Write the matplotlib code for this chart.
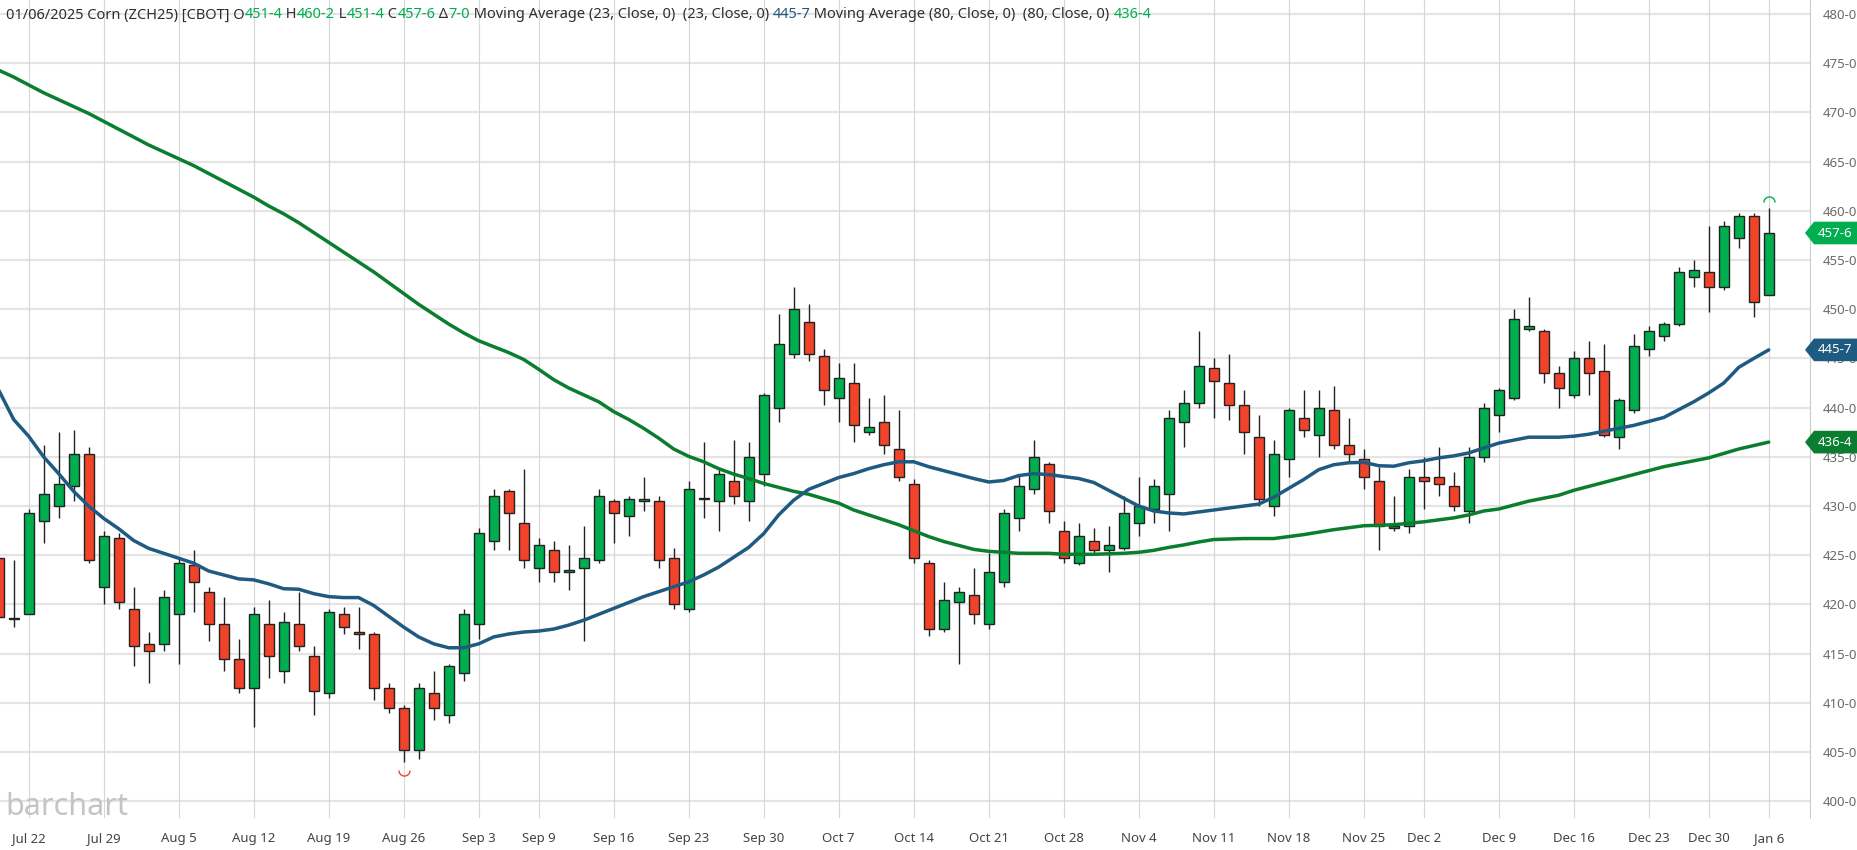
import matplotlib
matplotlib.use("Agg")
import matplotlib.pyplot as plt
from matplotlib.path import Path
from matplotlib.patches import Polygon
from matplotlib.transforms import blended_transform_factory
import pandas as pd

plt.rcParams['font.family'] = ['Noto Sans', 'DejaVu Sans']

# trading days shown (CBOT closed on the holidays)
holidays = ['2024-09-02', '2024-11-28', '2024-12-25', '2025-01-01']
days = [d for d in pd.bdate_range('2024-07-18', '2025-01-06') if d.strftime('%Y-%m-%d') not in holidays]

tick_dates = ['2024-07-22', '2024-07-29', '2024-08-05', '2024-08-12', '2024-08-19', '2024-08-26',
              '2024-09-03', '2024-09-09', '2024-09-16', '2024-09-23', '2024-09-30', '2024-10-07',
              '2024-10-14', '2024-10-21', '2024-10-28', '2024-11-04', '2024-11-11', '2024-11-18',
              '2024-11-25', '2024-12-02', '2024-12-09', '2024-12-16', '2024-12-23', '2024-12-30',
              '2025-01-06']

opens = [424.75, 418.5, 419, 428.5, 430, 432, 435.25, 421.75, 426.75, 419.5,
         416, 416, 419, 424, 421.25, 418, 414.5, 411.5, 418, 413.25,
         418, 414.75, 411, 419, 417.25, 417, 411.5, 409.5, 405.25, 411,
         408.75, 413, 418, 426.5, 431.5, 428.25, 423.75, 425.5, 423.25, 423.75,
         424.5, 430.5, 429, 430.5, 430.5, 424.75, 419.5, 430.75, 430.5, 432.5,
         430.5, 433.25, 440, 445.5, 448.75, 445.25, 441, 442.5, 437.5, 438.5,
         435.75, 432.25, 424.25, 417.5, 420.25, 421, 418, 422.25, 428.75, 431.75,
         434.25, 427.5, 424.25, 426.5, 425.5, 425.75, 428.25, 429.75, 431.25, 438.5,
         440.5, 444, 442.5, 440.25, 437, 430, 434.75, 439, 437.25, 439.75,
         436.25, 434.75, 432.5, 427.75, 428, 433, 433, 432, 429.5, 435,
         439.25, 441, 448, 447.75, 443.5, 441.25, 445, 443.75, 437, 439.75,
         446, 447.25, 448.5, 453.25, 453.75, 452.25, 457.25, 459.5, 451.5]
highs = [425.5, 424.5, 429.75, 436.25, 437.5, 437.75, 436, 427.5, 427.25, 421.75,
         417.25, 421.5, 424.75, 425.5, 421.75, 420.75, 416.5, 419.75, 420.5, 419.25,
         421.25, 415.75, 419.5, 419.75, 419.75, 417.25, 412, 409.75, 412, 413.25,
         414, 419.5, 427.75, 431.75, 431.75, 433.75, 426.75, 426.5, 426, 428,
         431.75, 430.75, 431, 433, 431, 425.75, 432.5, 436.5, 433.75, 436.75,
         436.5, 441.5, 449.5, 452.25, 450.5, 446, 444.5, 444.5, 441, 441.25,
         439.75, 432.75, 424.5, 422.25, 421.75, 423.75, 425.25, 429.75, 433.25, 436.75,
         434.5, 428.5, 428.25, 427.75, 428, 431, 433, 432.75, 439.75, 441.75,
         447.75, 445, 445.5, 441.75, 439.25, 436.75, 440, 441.75, 441.75, 442.25,
         439, 435.75, 434, 431, 433.75, 435, 436, 433.5, 436, 440.5,
         442, 450, 451.25, 448, 444.25, 445.75, 446.75, 446.5, 441, 447.5,
         448.25, 448.75, 454.25, 455, 458.5, 459, 459.75, 459.75, 460.25]
lows = [418.25, 417.75, 419, 426.25, 428.75, 430.5, 424.25, 420, 419.5, 413.75,
        412, 415.25, 414, 419.25, 416.25, 413.25, 411, 407.5, 412.5, 412,
        415.25, 408.75, 410.5, 417, 415.5, 410.25, 409, 404, 404.25, 408.25,
        408, 412.25, 416.5, 425.5, 425.5, 423.75, 422.25, 422.25, 421.5, 416.25,
        424.25, 426.25, 427, 429.5, 423.75, 419.5, 419.25, 428.75, 427.5, 430.25,
        428.5, 432, 438.5, 445, 444.75, 440.25, 438.5, 436.5, 437.25, 435.25,
        432.5, 424.25, 416.75, 417.25, 414, 418, 417.5, 421.75, 427.5, 431.25,
        428.25, 424.25, 424, 425, 423.25, 425.5, 427, 428.25, 427.5, 436,
        440, 439, 438.75, 435.25, 430, 429, 433, 437, 435, 435.75,
        434.5, 431.75, 425.5, 427.5, 427.25, 429.75, 431, 429.5, 428.25, 434.5,
        437.5, 440.75, 447.75, 442.5, 440, 441, 441.25, 437, 435.75, 439.5,
        445.25, 446.75, 448.25, 452.25, 449.75, 452, 456.25, 449.25, 451.5]
closes = [418.75, 418.5, 429.25, 431.25, 432.25, 435.25, 424.5, 427, 420.25, 415.75,
          415.25, 420.75, 424.25, 422.25, 418, 414.5, 411.5, 419, 414.75, 418.25,
          415.75, 411.25, 419.25, 417.75, 417, 411.5, 409.5, 405.25, 411.5, 409.5,
          413.75, 419, 427.25, 431, 429.25, 424.5, 426, 423.25, 423.5, 424.75,
          431, 429.25, 430.75, 430.75, 424.5, 420, 431.75, 430.75, 433.25, 431,
          435, 441.25, 446.5, 450, 445.5, 441.75, 443, 438.25, 438, 436.25,
          433, 424.75, 417.5, 420.5, 421.25, 419, 423.25, 429.25, 432, 435,
          429.5, 424.75, 427, 425.5, 426, 429.25, 430, 432, 439, 440.5,
          444.25, 442.75, 440.25, 437.5, 430.75, 435.25, 439.75, 437.75, 440, 436.25,
          435.25, 433, 428, 428, 433, 432.5, 432.25, 430, 435, 440,
          441.75, 449, 448.25, 443.5, 442, 445, 443.5, 437.25, 440.75, 446.25,
          447.75, 448.5, 453.75, 454, 452.25, 458.5, 459.5, 450.75, 457.75]

ma23 = [441.8, 438.8, 437.1, 435.0, 433.3, 431.5, 430.0, 428.75, 427.7, 426.5,
        425.7, 425.2, 424.7, 424.2, 423.4, 423.0, 422.6, 422.5, 422.1, 421.6,
        421.55, 421.1, 420.8, 420.7, 420.7, 419.9, 418.8, 417.7, 416.7, 416.0,
        415.6, 415.6, 416.0, 416.7, 417.0, 417.2, 417.3, 417.5, 417.9, 418.4,
        419.0, 419.6, 420.2, 420.8, 421.3, 421.8, 422.3, 423.0, 423.8, 424.8,
        425.8, 427.2, 429.1, 430.6, 431.7, 432.3, 432.9, 433.3, 433.8, 434.2,
        434.5, 434.5, 434.0, 433.6, 433.2, 432.8, 432.45, 432.6, 433.1, 433.3,
        433.2, 433.0, 432.8, 432.4, 431.6, 430.8, 430.0, 429.5, 429.3, 429.2,
        429.4, 429.6, 429.8, 430.0, 430.2, 430.9, 431.8, 432.7, 433.7, 434.2,
        434.4, 434.45, 434.1, 434.05, 434.4, 434.6, 434.9, 435.1, 435.4, 435.9,
        436.4, 436.7, 437.0, 437.0, 437.0, 437.1, 437.3, 437.6, 437.9, 438.2,
        438.6, 439.0, 439.8, 440.6, 441.5, 442.5, 444.1, 445.0, 445.875]
ma80 = [474.3, 473.6, 472.8, 472.0, 471.3, 470.6, 469.9, 469.1, 468.3, 467.5,
        466.7, 466.0, 465.3, 464.6, 463.8, 463.0, 462.2, 461.4, 460.5, 459.7,
        458.8, 457.8, 456.8, 455.8, 454.8, 453.8, 452.7, 451.6, 450.5, 449.5,
        448.5, 447.6, 446.8, 446.2, 445.6, 444.9, 443.9, 442.85, 442.0, 441.3,
        440.6, 439.6, 438.8, 437.9, 436.9, 435.8, 435.05, 434.5, 433.8, 433.25,
        432.8, 432.3, 431.9, 431.5, 431.2, 430.75, 430.3, 429.6, 429.1, 428.6,
        428.1, 427.5, 426.9, 426.4, 426.0, 425.6, 425.4, 425.3, 425.2, 425.2,
        425.2, 425.1, 425.1, 425.1, 425.15, 425.2, 425.3, 425.5, 425.8, 426.05,
        426.35, 426.6, 426.65, 426.7, 426.7, 426.7, 426.9, 427.1, 427.35, 427.6,
        427.8, 428.0, 428.05, 428.1, 428.25, 428.4, 428.6, 428.8, 429.1, 429.5,
        429.7, 430.1, 430.5, 430.8, 431.1, 431.6, 432.0, 432.4, 432.8, 433.2,
        433.6, 434.0, 434.3, 434.6, 434.9, 435.35, 435.8, 436.15, 436.5]

UP = '#00ad4f'
DOWN = '#f0432a'
BLUE = '#1f5a80'
GREEN_MA = '#0b7d2e'
TXT = '#2e2e2e'


def fmt(v):
    w = int(v)
    return f"{w}-{int(round((v - w) * 8))}"


W, H = 1857, 850
fig = plt.figure(figsize=(W / 100, H / 100), dpi=100)
ax = fig.add_axes([0, 32 / H, 1810 / W, 1 - 32 / H])

x = list(range(len(days)))
pos = {d.strftime('%Y-%m-%d'): i for i, d in enumerate(days)}
tick_x = [pos[t] for t in tick_dates]
tick_labels = [f"{pd.Timestamp(t):%b} {pd.Timestamp(t).day}" for t in tick_dates]

# grid
for v in range(400, 481, 5):
    ax.axhline(v, color='#e4e4e4', lw=1.6, zorder=0)
for tx in tick_x:
    ax.axvline(tx, color='#d6d6d6', lw=0.8, zorder=0)

# candles
colors = [UP if c >= o else DOWN for o, c in zip(opens, closes)]
ax.vlines(x, lows, highs, color='#222222', lw=1.0, zorder=2)
bottoms = [min(o, c) for o, c in zip(opens, closes)]
heights = [max(abs(c - o), 0.12) for o, c in zip(opens, closes)]
ax.bar(x, heights, bottom=bottoms, width=0.68, color=colors, edgecolor='#222222',
       linewidth=1.0, zorder=3)

# moving averages
ax.plot(x, ma80, color=GREEN_MA, lw=2.5, zorder=4, solid_capstyle='round')
ax.plot(x, ma23, color=BLUE, lw=2.5, zorder=4, solid_capstyle='round')

# high / low markers
i_lo = lows.index(min(lows))
ax.plot([i_lo], [min(lows) - 0.8], marker=Path.arc(180, 360), ms=8, mfc='none',
        mec=DOWN, mew=1.0, ls='none', zorder=5)
i_hi = highs.index(max(highs))
ax.plot([i_hi], [max(highs) + 0.7], marker=Path.arc(0, 180), ms=8, mfc='none',
        mec=UP, mew=1.0, ls='none', zorder=5, clip_on=False)

x_first = pos['2024-07-22']
ax.set_xlim(x_first - 1.91, x_first + 118.75)
ax.set_ylim(398.3, 481.43)
ax.set_xticks(tick_x)
ax.set_xticklabels(tick_labels)
yt = list(range(400, 481, 5))
ax.set_yticks(yt)
ax.set_yticklabels([f"{v}-0" for v in yt])
ax.yaxis.tick_right()
ax.tick_params(axis='y', length=0, pad=9, labelsize=9.5, labelcolor='#6a6a6a')
ax.tick_params(axis='x', length=0, pad=10, labelsize=9.5, labelcolor='#444444')
for s in ['left', 'top', 'bottom']:
    ax.spines[s].set_visible(False)
ax.spines['right'].set_color('#cccccc')

# price tags on the right axis
tr = blended_transform_factory(fig.transFigure, ax.transData)
for val, col in [(closes[-1], UP), (ma23[-1], BLUE), (ma80[-1], GREEN_MA)]:
    x0, x1, xp = 1805 / W, 1.0, 1814 / W
    hh = 1.15
    poly = Polygon([(x0, val), (xp, val + hh), (x1, val + hh), (x1, val - hh), (xp, val - hh)],
                   closed=True, transform=tr, facecolor=col, edgecolor='none', clip_on=False, zorder=6)
    fig.add_artist(poly)
    fig.text(1835 / W, val, fmt(val), transform=tr, ha='center', va='center',
             color='white', fontsize=9.5, weight='bold', zorder=7)

# header line
prev = closes[-2]
pieces = [
    ("01/06/2025 Corn (ZCH25) [CBOT] O", TXT), (fmt(opens[-1]), UP),
    (" H", TXT), (fmt(highs[-1]), UP), (" L", TXT), (fmt(lows[-1]), UP),
    (" C", TXT), (fmt(closes[-1]), UP), (" Δ", TXT), (fmt(closes[-1] - prev), UP),
    (" Moving Average (23, Close, 0)  (23, Close, 0) ", TXT), (fmt(ma23[-1]), BLUE),
    (" Moving Average (80, Close, 0)  (80, Close, 0) ", TXT), (fmt(ma80[-1]), UP),
]
renderer = fig.canvas.get_renderer()
hx = 6
for s, c in pieces:
    t = fig.text(hx / W, 1 - 15 / H, s, color=c, fontsize=10.5, va='center', ha='left')
    bb = t.get_window_extent(renderer)
    hx = bb.x1

fig.text(5 / W, 43 / H, 'barchart', fontsize=22, weight='bold', color='#c4c4c4',
         va='center', ha='left')

fig.savefig('out.png', dpi=100)
